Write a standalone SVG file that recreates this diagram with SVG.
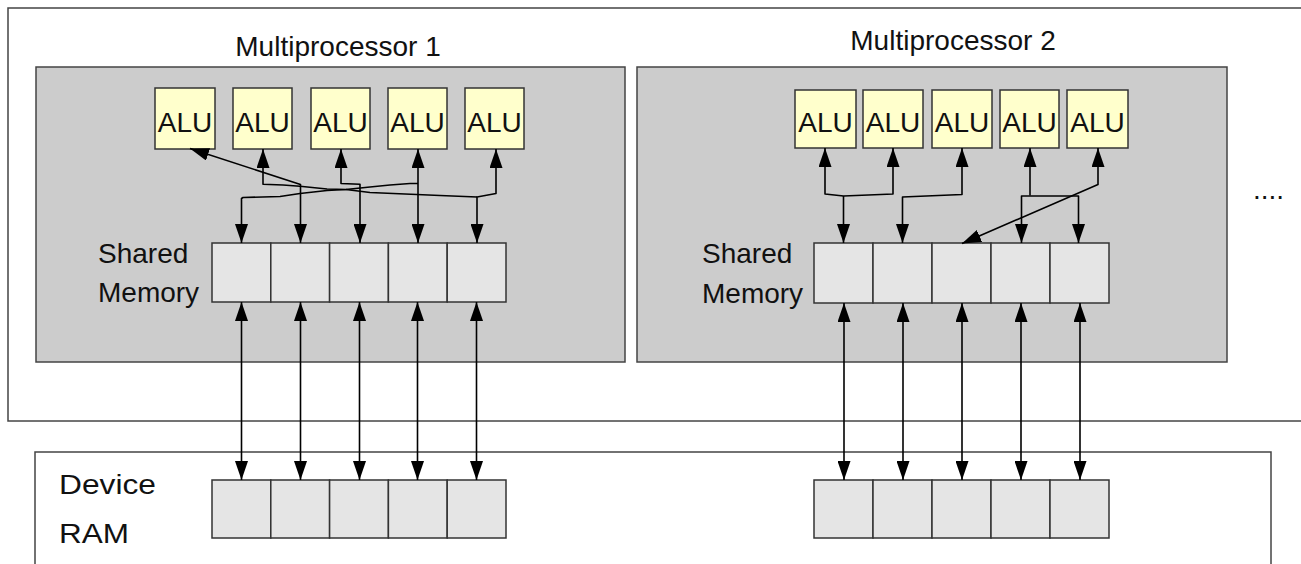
<svg xmlns="http://www.w3.org/2000/svg" width="1301" height="564" viewBox="0 0 1301 564">
<style>
.frame{fill:#ffffff;stroke:#444;stroke-width:1.5}
.mp{fill:#cccccc;stroke:#444;stroke-width:1.5}
.alu{fill:#ffffcc;stroke:#333;stroke-width:1.5}
.cell{fill:#e5e5e5;stroke:#333;stroke-width:1.5}
.t{font-family:"Liberation Sans",Arial,sans-serif;font-size:28px;fill:#111}
.c{fill:none;stroke:#000;stroke-width:1.6;stroke-linejoin:round}
.a2{marker-start:url(#ah);marker-end:url(#ah)}
.ae{marker-end:url(#ah)}
.as{marker-start:url(#ah)}
</style>
<defs>
<marker id="ah" viewBox="0 0 19 13" refX="19" refY="6.5" markerWidth="19" markerHeight="13" markerUnits="userSpaceOnUse" orient="auto-start-reverse">
<path d="M0,0 L19,6.5 L0,13 z" fill="#000"/>
</marker>
</defs>
<rect width="1301" height="564" fill="#ffffff"/>
<g id="gpu">
<rect class="frame" x="8" y="8" width="1310" height="413"/>
</g>
<g id="device-ram">
<rect class="frame" x="35" y="452" width="1236" height="200"/>
<text class="t" x="59" y="494" textLength="97" lengthAdjust="spacingAndGlyphs">Device</text>
<text class="t" x="59" y="543" textLength="70" lengthAdjust="spacingAndGlyphs">RAM</text>
</g>
<g id="mp1">
<rect class="mp" x="36" y="67" width="589" height="295"/>
<text class="t" x="338" y="56" text-anchor="middle">Multiprocessor 1</text>
</g>
<g id="mp2">
<rect class="mp" x="637" y="67" width="590" height="295"/>
<text class="t" x="953" y="50" text-anchor="middle">Multiprocessor 2</text>
</g>
<g id="more">
<text class="t" x="1253" y="199">....</text>
</g>
<g id="mp1-alu1"><rect class="alu" x="155" y="88" width="60" height="61"/><text class="t" x="185" y="131.5" text-anchor="middle">ALU</text></g>
<g id="mp1-alu2"><rect class="alu" x="233" y="88" width="59" height="61"/><text class="t" x="262.5" y="131.5" text-anchor="middle">ALU</text></g>
<g id="mp1-alu3"><rect class="alu" x="311" y="88" width="59" height="61"/><text class="t" x="340.5" y="131.5" text-anchor="middle">ALU</text></g>
<g id="mp1-alu4"><rect class="alu" x="388" y="88" width="59" height="61"/><text class="t" x="417.5" y="131.5" text-anchor="middle">ALU</text></g>
<g id="mp1-alu5"><rect class="alu" x="465" y="88" width="59" height="61"/><text class="t" x="494.5" y="131.5" text-anchor="middle">ALU</text></g>
<g id="mp2-alu1"><rect class="alu" x="795" y="90" width="61" height="58"/><text class="t" x="825.5" y="131.5" text-anchor="middle">ALU</text></g>
<g id="mp2-alu2"><rect class="alu" x="863" y="90" width="60" height="58"/><text class="t" x="893" y="131.5" text-anchor="middle">ALU</text></g>
<g id="mp2-alu3"><rect class="alu" x="932" y="90" width="60" height="58"/><text class="t" x="962" y="131.5" text-anchor="middle">ALU</text></g>
<g id="mp2-alu4"><rect class="alu" x="1000" y="90" width="59" height="58"/><text class="t" x="1029.5" y="131.5" text-anchor="middle">ALU</text></g>
<g id="mp2-alu5"><rect class="alu" x="1067" y="90" width="61" height="58"/><text class="t" x="1097.5" y="131.5" text-anchor="middle">ALU</text></g>
<g id="mp1-shared">
<text class="t" x="98" y="263">Shared</text>
<text class="t" x="98" y="302">Memory</text>
<rect class="cell" x="212" y="243" width="58.8" height="59"/>
<rect class="cell" x="270.8" y="243" width="58.8" height="59"/>
<rect class="cell" x="329.6" y="243" width="58.8" height="59"/>
<rect class="cell" x="388.4" y="243" width="58.8" height="59"/>
<rect class="cell" x="447.2" y="243" width="58.8" height="59"/>
</g>
<g id="mp2-shared">
<text class="t" x="702" y="263">Shared</text>
<text class="t" x="702" y="303">Memory</text>
<rect class="cell" x="814" y="243" width="59" height="60"/>
<rect class="cell" x="873" y="243" width="59" height="60"/>
<rect class="cell" x="932" y="243" width="59" height="60"/>
<rect class="cell" x="991" y="243" width="59" height="60"/>
<rect class="cell" x="1050" y="243" width="59" height="60"/>
</g>
<g id="ram-bank1">
<rect class="cell" x="212" y="480" width="58.8" height="58"/>
<rect class="cell" x="270.8" y="480" width="58.8" height="58"/>
<rect class="cell" x="329.6" y="480" width="58.8" height="58"/>
<rect class="cell" x="388.4" y="480" width="58.8" height="58"/>
<rect class="cell" x="447.2" y="480" width="58.8" height="58"/>
</g>
<g id="ram-bank2">
<rect class="cell" x="814" y="480" width="59" height="58"/>
<rect class="cell" x="873" y="480" width="59" height="58"/>
<rect class="cell" x="932" y="480" width="59" height="58"/>
<rect class="cell" x="991" y="480" width="59" height="58"/>
<rect class="cell" x="1050" y="480" width="59" height="58"/>
</g>
<g id="connectors">
<path class="c a2" d="M300.5,243 V184.5 L190,148.5"/>
<path class="c as" d="M263,149 V184.3 L283,185 L300,186.3 L327,189 L346,189.5 L370,192.5 L440,195.5 L477,197"/>
<path class="c a2" d="M496,149 V193.5 L477,197 V243"/>
<path class="c a2" d="M418,149 V243"/>
<path class="c ae" d="M418,183.5 L410,183.5 L390,185 L370,187 L346,189.5 L327,190.5 L300,193.5 L280,196.5 L243,197.5 L241.5,198.5 V243"/>
<path class="c a2" d="M341,149 V183.5 L360,184.3 V243"/>
<path class="c a2" d="M825,148 V194 L843.5,196 L893,194 V148"/>
<path class="c ae" d="M843.5,196 V243"/>
<path class="c a2" d="M962,148 V194.5 L902.5,197 V243"/>
<path class="c as" d="M1030,148 V195.5"/>
<path class="c a2" d="M1021.5,243 V196 L1078.5,196 V243"/>
<path class="c a2" d="M1098,148 V184.5 L962,243.5"/>
<path class="c a2" d="M241.5,302 V480"/>
<path class="c a2" d="M300.5,302 V480"/>
<path class="c a2" d="M359.5,302 V480"/>
<path class="c a2" d="M417.5,302 V480"/>
<path class="c a2" d="M476.5,302 V480"/>
<path class="c a2" d="M844,303 V480"/>
<path class="c a2" d="M903,303 V480"/>
<path class="c a2" d="M962,303 V480"/>
<path class="c a2" d="M1021,303 V480"/>
<path class="c a2" d="M1080,303 V480"/>
</g>
</svg>
